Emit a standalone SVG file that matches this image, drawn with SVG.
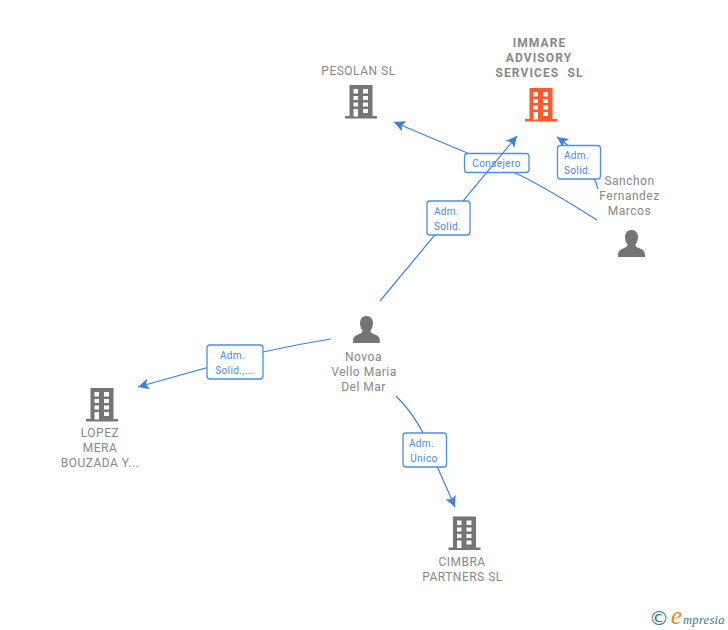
<svg xmlns="http://www.w3.org/2000/svg" width="728" height="630" viewBox="0 0 728 630">
<style>
text{font-family:Roboto,"Liberation Sans",sans-serif}
.n{font-size:12px;fill:#888;text-anchor:middle;letter-spacing:.5px;white-space:pre}
.t{font-weight:700;letter-spacing:1.1px}
.l{font-size:10px;fill:#4a88e4;text-anchor:middle;letter-spacing:.4px}
.b{fill:#fff;stroke:#4a8fe8;stroke-width:1.3}
.c{fill:none;stroke:#3f80e0;stroke-width:1.2}
</style>
<defs>
<marker id="a" markerUnits="userSpaceOnUse" markerWidth="12" markerHeight="12" refX="11" refY="5.500" orient="auto"><path d="M0 0L11 5.500L0 11L2.500 5.500Z" fill="#3f80e0"/></marker>
<path id="bld" fill-rule="evenodd" d="M4.500 0H27.500V31H32V33.500H0V31H4.500ZM8.500 4V8.500H13V4ZM18 4V8.500H23V4ZM8.500 11V15H13V11ZM18 11V15H23V11ZM8.500 17.500V21.500H13V17.500ZM18 17.500V21.500H23V17.500ZM8.500 24V31.500H13V24ZM18 24V28H23V24Z"/>
<path id="per" d="M13.500 0C18 0 20 3.500 20 7C20 10 19 12.500 17.500 14.500C17.500 17 20 17.500 23 19C26 20.300 27 22 27 27H0C0 22 1 20.300 4 19C7 17.500 9.500 17 9.500 14.500C8 12.500 7 10 7 7C7 3.500 9 0 13.500 0Z"/>
</defs>
<rect width="728" height="630" fill="#fff"/>
<g id="connectors">
<path class="c" marker-end="url(#a)" d="M597 220C570 203 540 184 513 172C480 158 440 142 394 122"/>
<rect class="b" x="464.500" y="153.500" width="64.500" height="19" rx="3"/>
<text class="l" x="496.500" y="166.500">Consejero</text>
<path class="c" marker-end="url(#a)" d="M380 301L517 136"/>
<rect class="b" x="427" y="201" width="43" height="34" rx="3"/>
<text class="l" x="446.500" y="214.500">Adm.</text><text class="l" x="447.500" y="229.500">Solid.</text>
<path class="c" marker-end="url(#a)" d="M598 189C593 170 578 152 557 137"/>
<rect class="b" x="557.500" y="145.500" width="43" height="33.500" rx="3"/>
<text class="l" x="576.500" y="158.500">Adm.</text><text class="l" x="577.500" y="173.500">Solid.</text>
<path class="c" marker-end="url(#a)" d="M331 339C305 343 285 347 263 352L138 387"/>
<rect class="b" x="207" y="345" width="56" height="34" rx="3"/>
<text class="l" x="232.500" y="358.500">Adm.</text><text class="l" x="234.500" y="373.500">Solid.,...</text>
<path class="c" marker-end="url(#a)" d="M396 396C412 412 425 432 433 457L455 507"/>
<rect class="b" x="403" y="433" width="43.500" height="34" rx="3"/>
<text class="l" x="421.500" y="446.500">Adm.</text><text class="l" x="424" y="461.500">Unico</text>
</g>
<g id="pesolan"><use href="#bld" x="345" y="85" fill="#757575"/><text class="n" x="358.500" y="75">PESOLAN SL</text></g>
<g id="immare"><use href="#bld" x="525" y="88" fill="#ff5a2c"/><text class="n t" x="539.500" y="47">IMMARE</text><text class="n t" x="539" y="62">ADVISORY</text><text class="n t" x="539.500" y="77">SERVICES  SL</text></g>
<g id="sanchon"><use href="#per" x="618" y="230" fill="#757575"/><text class="n" x="629.500" y="185">Sanchon</text><text class="n" x="629.500" y="200">Fernandez</text><text class="n" x="629.500" y="215">Marcos</text></g>
<g id="novoa"><use href="#per" x="353" y="316" fill="#757575"/><text class="n" x="363.500" y="361">Novoa</text><text class="n" x="364" y="376">Vello Maria</text><text class="n" x="363.500" y="391">Del Mar</text></g>
<g id="lopez"><use href="#bld" x="86" y="388" fill="#757575"/><text class="n" x="100" y="437">LOPEZ</text><text class="n" x="100" y="452">MERA</text><text class="n" x="100" y="467">BOUZADA Y...</text></g>
<g id="cimbra"><use href="#bld" x="448.500" y="516.500" fill="#757575"/><text class="n" x="462" y="566">CIMBRA</text><text class="n" x="462.500" y="581">PARTNERS SL</text></g>
<g id="logo"><text x="649" y="625" font-size="20" style="font-family:'DejaVu Sans',sans-serif" fill="#3d7d93">©</text><text x="671" y="624" font-size="25" font-style="italic" fill="#f08a1c" style="font-family:'Liberation Serif',serif">e</text><text x="683" y="624" font-size="12.500" font-style="italic" fill="#2f7a90" style="font-family:'Liberation Serif',serif" letter-spacing=".3">mpresia</text></g>
</svg>
